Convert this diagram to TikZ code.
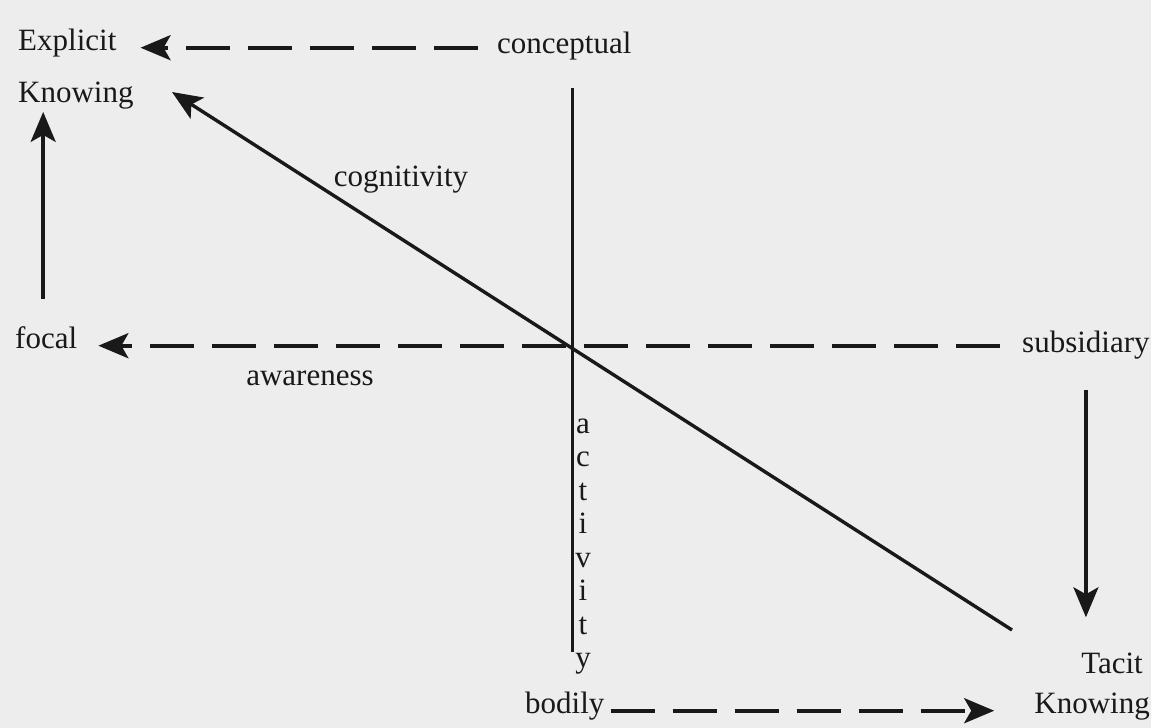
\documentclass[tikz,border=0pt]{standalone}
\usepackage{fontspec}
\setmainfont{Liberation Serif}
\usetikzlibrary{arrows.meta}
\definecolor{bg}{RGB}{237,237,237}
\definecolor{ink}{RGB}{25,25,25}
\begin{document}
\begin{tikzpicture}[x=1pt,y=-1pt,
  lbl/.style={font=\fontsize{31}{36}\selectfont, text=ink, inner sep=0pt, anchor=base west},
  ln/.style={draw=ink, line width=3pt},
  arr/.style={draw=ink, line width=3.4pt, -{Stealth[length=30pt,width=25pt,inset=7pt]}},
  dsh/.style={arr, line width=4pt, dash pattern=on 44pt off 18pt}]
\fill[bg] (0,0) rectangle (1151,728);
\useasboundingbox (0,0) rectangle (1151,728);

% labels
\node[lbl] (explicit) at (18,50) {Explicit};
\node[lbl] (knowA) at (18,102) {Knowing};
\node[lbl] (concept) at (497,53) {conceptual};
\node[lbl, anchor=base] (cogn) at (401,186) {cognitivity};
\node[lbl] (focal) at (15,348) {focal};
\node[lbl] (subsid) at (1022,352) {subsidiary};
\node[lbl, anchor=base] (aware) at (310,385) {awareness};
\node[lbl, anchor=base east] (tacit) at (1143,673) {Tacit};
\node[lbl, anchor=base east] (knowB) at (1150,713) {Knowing};
\node[lbl] (bodily) at (525,713) {bodily};
\foreach \c [count=\i] in {a,c,t,i,v,i,t,y}
  \node[lbl, anchor=base] (act\i) at (583,{433+33.5*(\i-1)}) {\c};

% free ends
\coordinate (vtop) at (572,88);
\coordinate (vbot) at (572,652);
\coordinate (dtail) at (1012,630);
\coordinate (dtip) at (172,92);

% connectors
\draw[ln] (vtop) -- (vbot);
\draw[arr] (dtail) -- (dtip);
\draw[dsh, shorten <=19pt, shorten >=24pt] (concept.west |- explicit.mid) -- (explicit.mid east);
\draw[dsh, shorten <=22pt, shorten >=21pt] (subsid.west |- focal.mid) -- (focal.mid east);
\draw[dsh, shorten <=6pt, shorten >=40pt] (bodily.mid east) -- (knowB.mid west |- bodily.mid);
\draw[arr, shorten <=27pt, shorten >=3pt] ([xshift=-3pt]focal.north) -- ([xshift=-3pt]knowA.south -| focal.north);
\draw[arr, shorten <=31pt, shorten >=35pt] (subsid.south) -- (subsid.south |- tacit.north);
\end{tikzpicture}
\end{document}
